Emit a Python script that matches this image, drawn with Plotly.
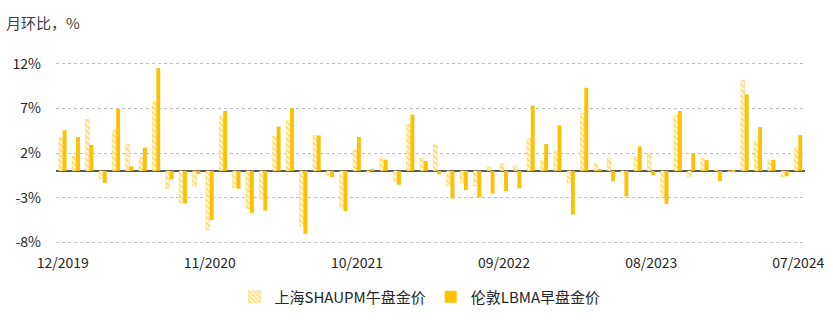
import plotly.graph_objects as go
import pandas as pd

months = [d.strftime("%m/%Y") for d in pd.date_range("2019-12-01", "2024-07-01", freq="MS")]

shanghai = [3.7, 1.6, 5.75, -0.9, 4.55, 3.0, 1.5, 7.7, -2.0, -3.6, -1.7, -6.6, 6.2, -1.9,
            -4.25, -3.15, 3.9, 5.65, -6.2, 3.95, -0.5, -4.15, 2.3, -0.2, 1.45, -1.25, 5.2, 1.45,
            2.9, -1.7, -1.35, -1.7, 0.45, 0.8, 0.55, 3.6, 1.1, 2.15, -1.35, 6.45, 0.75, 1.45,
            -0.15, 1.55, 1.85, -2.85, 6.2, -0.7, 1.4, 0.15, -0.1, 10.1, 3.25, 1.2, -0.65, 2.65]
london = [4.55, 3.8, 2.9, -1.35, 6.95, 0.5, 2.6, 11.5, -0.95, -3.65, -0.35, -5.5, 6.7, -2.0,
          -4.7, -4.45, 4.95, 7.0, -7.05, 3.95, -0.7, -4.5, 3.8, 0.15, 1.25, -1.55, 6.3, 1.1,
          -0.4, -3.1, -2.15, -2.95, -2.55, -2.25, -1.95, 7.3, 3.0, 5.1, -4.9, 9.3, 0.2, -1.15,
          -2.85, 2.75, -0.5, -3.7, 6.7, 2.0, 1.2, -1.15, -0.15, 8.55, 4.9, 1.25, -0.6, 4.0]

tick_labels = ["12/2019", "11/2020", "10/2021", "09/2022", "08/2023", "07/2024"]
y_ticks = [-8, -3, 2, 7, 12]

GOLD = "#FFC000"
FONT = "Noto Sans CJK SC"

fig = go.Figure()
fig.add_trace(go.Bar(
    x=months, y=shanghai, name="上海SHAUPM午盘金价",
    marker=dict(color="white", line=dict(width=0.6, color="rgba(255,192,0,0.5)"),
                pattern=dict(shape="\\", fgcolor=GOLD, bgcolor="white", size=4, solidity=0.6,
                             fillmode="overlay")),
))
fig.add_trace(go.Bar(
    x=months, y=london, name="伦敦LBMA早盘金价",
    marker=dict(color=GOLD, line=dict(width=0)),
))

fig.update_layout(
    width=833, height=320,
    margin=dict(l=56, r=28, t=61, b=75, autoexpand=False),
    paper_bgcolor="white", plot_bgcolor="white",
    barmode="group", bargap=0.42, bargroupgap=0.0,
    font=dict(family=FONT, size=14, color="#404040"),
    showlegend=True,
    legend=dict(orientation="h", x=0.486, xanchor="center", y=-0.283, yanchor="middle",
                font=dict(size=15, color="#262626"), itemwidth=30, traceorder="normal"),
    annotations=[dict(text="月环比，%", xref="paper", yref="paper", x=-0.069, y=1.21,
                      xanchor="left", yanchor="middle", showarrow=False,
                      font=dict(size=15, color="#404040"))],
)
fig.update_xaxes(
    type="category", tickmode="array", tickvals=tick_labels, ticktext=tick_labels,
    showgrid=False, showline=False, ticks="", tickangle=0, ticklabelstandoff=8,
    tickfont=dict(size=14, color="#262626"),
)
fig.update_yaxes(
    range=[-8.3, 12.3], tickmode="array", tickvals=y_ticks,
    ticktext=[f"{v}%" for v in y_ticks],
    showgrid=True, gridcolor="#BFBFBF", griddash="dot", gridwidth=1,
    zeroline=True, zerolinecolor="#595959", zerolinewidth=1.5,
    showline=False, ticks="", ticklabelstandoff=14,
    tickfont=dict(size=14, color="#262626"),
)

fig.write_html("out.html")
